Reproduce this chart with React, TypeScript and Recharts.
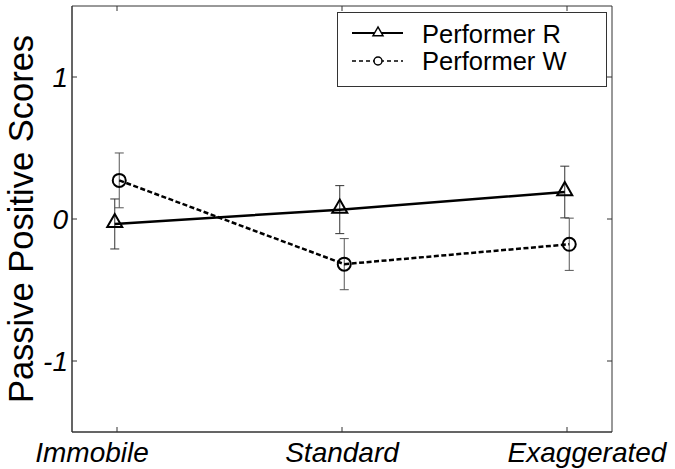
import React from "react";
import {
  LineChart,
  Line,
  XAxis,
  YAxis,
  ErrorBar,
  ReferenceArea,
  Legend,
} from "recharts";

// conditions along the x axis
const CATEGORIES = ["Immobile", "Standard", "Exaggerated"];
const CATEGORY_X = [1, 2, 3];

// Performer R (triangles, solid)
const R_MEAN = [-0.035, 0.066, 0.19];
const R_ERR = [0.176, 0.169, 0.182];
const R_SHIFT = -0.01;

// Performer W (circles, dashed)
const W_MEAN = [0.272, -0.318, -0.178];
const W_ERR = [0.193, 0.18, 0.184];
const W_SHIFT = 0.01;

const Y_TICKS = [-1, 0, 1];
const Y_TICK_LABELS = ["-1", "0", "1"];

const X_DOMAIN: [number, number] = [0.8, 3.2];
const Y_DOMAIN: [number, number] = [-1.5, 1.5];

// plot box, used for the inward tick marks on top/right edges
const PLOT_TOP = 6;
const PLOT_RIGHT = 612;
const AXIS = "#333";
const FONT = "'Liberation Sans', Arial, Helvetica, sans-serif";

// MATLAB-ish hand placed labels
const LABEL_DX = [-25, 0, 20];

const rData = CATEGORY_X.map((x, i) => ({ x: x + R_SHIFT, y: R_MEAN[i], err: R_ERR[i] }));
const wData = CATEGORY_X.map((x, i) => ({ x: x + W_SHIFT, y: W_MEAN[i], err: W_ERR[i] }));

const XTick = (props: any) => {
  const { x, y, payload, index } = props;
  const label = CATEGORIES[CATEGORY_X.indexOf(payload.value)];
  return (
    <g>
      <line x1={x} y1={y} x2={x} y2={y - 5} stroke={AXIS} />
      <line x1={x} y1={PLOT_TOP} x2={x} y2={PLOT_TOP + 5} stroke={AXIS} />
      <text
        x={x + (LABEL_DX[index] ?? 0)}
        y={y + 30}
        textAnchor="middle"
        fontFamily={FONT}
        fontStyle="italic"
        fontSize={28}
        fill="#000"
      >
        {label}
      </text>
    </g>
  );
};

const YTick = (props: any) => {
  const { x, y, payload } = props;
  const label = Y_TICK_LABELS[Y_TICKS.indexOf(payload.value)];
  return (
    <g>
      <line x1={x} y1={y} x2={x + 5} y2={y} stroke={AXIS} />
      <line x1={PLOT_RIGHT - 5} y1={y} x2={PLOT_RIGHT} y2={y} stroke={AXIS} />
      <text
        x={x - 4}
        y={y + 10}
        textAnchor="end"
        fontFamily={FONT}
        fontStyle="italic"
        fontSize={28}
        fill="#000"
      >
        {label}
      </text>
    </g>
  );
};

const YLabel = (props: any) => {
  const vb = props.viewBox || { x: 0, y: 0, width: 72, height: 426 };
  const cx = vb.x + 33;
  const cy = vb.y + vb.height / 2;
  return (
    <text
      x={cx}
      y={cy}
      transform={`rotate(-90, ${cx}, ${cy})`}
      textAnchor="middle"
      fontFamily={FONT}
      fontSize={34.5}
      fill="#000"
    >
      Passive Positive Scores
    </text>
  );
};

const triangle = (cx: number, cy: number, s: number) =>
  `M${cx},${cy - s * 1.2} L${cx - s},${cy + s * 0.55} L${cx + s},${cy + s * 0.55} Z`;

const TriangleDot = (props: any) => {
  const { cx, cy, index } = props;
  if (cx == null || cy == null) return <g key={`t${index}`} />;
  return (
    <path key={`t${index}`} d={triangle(cx, cy - 1, 7.5)} fill="none" stroke="#000" strokeWidth={2} />
  );
};

const CircleDot = (props: any) => {
  const { cx, cy, index } = props;
  if (cx == null || cy == null) return <g key={`c${index}`} />;
  return <circle key={`c${index}`} cx={cx} cy={cy} r={6.5} fill="none" stroke="#000" strokeWidth={2} />;
};

const LegendBox = () => (
  <svg width={270} height={75} style={{ display: "block" }}>
    <rect x={0.5} y={0.5} width={269} height={74} fill="#fff" stroke={AXIS} />
    <line x1={15} y1={21} x2={66} y2={21} stroke="#000" strokeWidth={2} />
    <path d={triangle(41, 21, 5)} fill="#fff" stroke="#000" strokeWidth={1.5} />
    <text x={85} y={31} fontFamily={FONT} fontSize={25.5} fill="#000">
      Performer R
    </text>
    <line x1={15} y1={49} x2={66} y2={49} stroke="#000" strokeWidth={1.5} strokeDasharray="4 3" />
    <circle cx={41} cy={49} r={4} fill="#fff" stroke="#000" strokeWidth={1.5} />
    <text x={85} y={57.5} fontFamily={FONT} fontSize={25.5} fill="#000">
      Performer W
    </text>
  </svg>
);

export default function App() {
  return (
    <div style={{ position: "absolute", left: 0, top: 0, width: 675, height: 469, background: "#fff" }}>
      <LineChart width={675} height={469} margin={{ top: 6, right: 63, bottom: 0, left: 0 }}>
        <XAxis
          type="number"
          dataKey="x"
          domain={X_DOMAIN}
          ticks={CATEGORY_X}
          allowDataOverflow
          height={37}
          tickSize={0}
          tickMargin={0}
          tickLine={false}
          axisLine={{ stroke: AXIS }}
          tick={<XTick />}
          interval={0}
        />
        <YAxis
          type="number"
          domain={Y_DOMAIN}
          ticks={Y_TICKS}
          allowDataOverflow
          width={72}
          tickSize={0}
          tickMargin={0}
          tickLine={false}
          axisLine={{ stroke: AXIS }}
          tick={<YTick />}
          interval={0}
          label={<YLabel />}
        />
        <ReferenceArea
          x1={X_DOMAIN[0]}
          x2={X_DOMAIN[1]}
          y1={Y_DOMAIN[0]}
          y2={Y_DOMAIN[1]}
          fill="none"
          fillOpacity={0}
          stroke={AXIS}
          strokeWidth={1}
          ifOverflow="visible"
        />
        <Legend
          layout="vertical"
          align="center"
          verticalAlign="middle"
          content={<LegendBox />}
          wrapperStyle={{ position: "absolute", left: 337, top: 12, width: 270, height: 75 }}
        />
        <Line
          data={rData}
          dataKey="y"
          name="Performer R"
          stroke="#000"
          strokeWidth={2.5}
          dot={TriangleDot}
          activeDot={false}
          isAnimationActive={false}
        >
          <ErrorBar dataKey="err" width={4.5} stroke="#333" strokeWidth={1} isAnimationActive={false} />
        </Line>
        <Line
          data={wData}
          dataKey="y"
          name="Performer W"
          stroke="#000"
          strokeWidth={2.5}
          strokeDasharray="5 2.5"
          dot={CircleDot}
          activeDot={false}
          isAnimationActive={false}
        >
          <ErrorBar dataKey="err" width={4.5} stroke="#555" strokeWidth={1} isAnimationActive={false} />
        </Line>
      </LineChart>
    </div>
  );
}
